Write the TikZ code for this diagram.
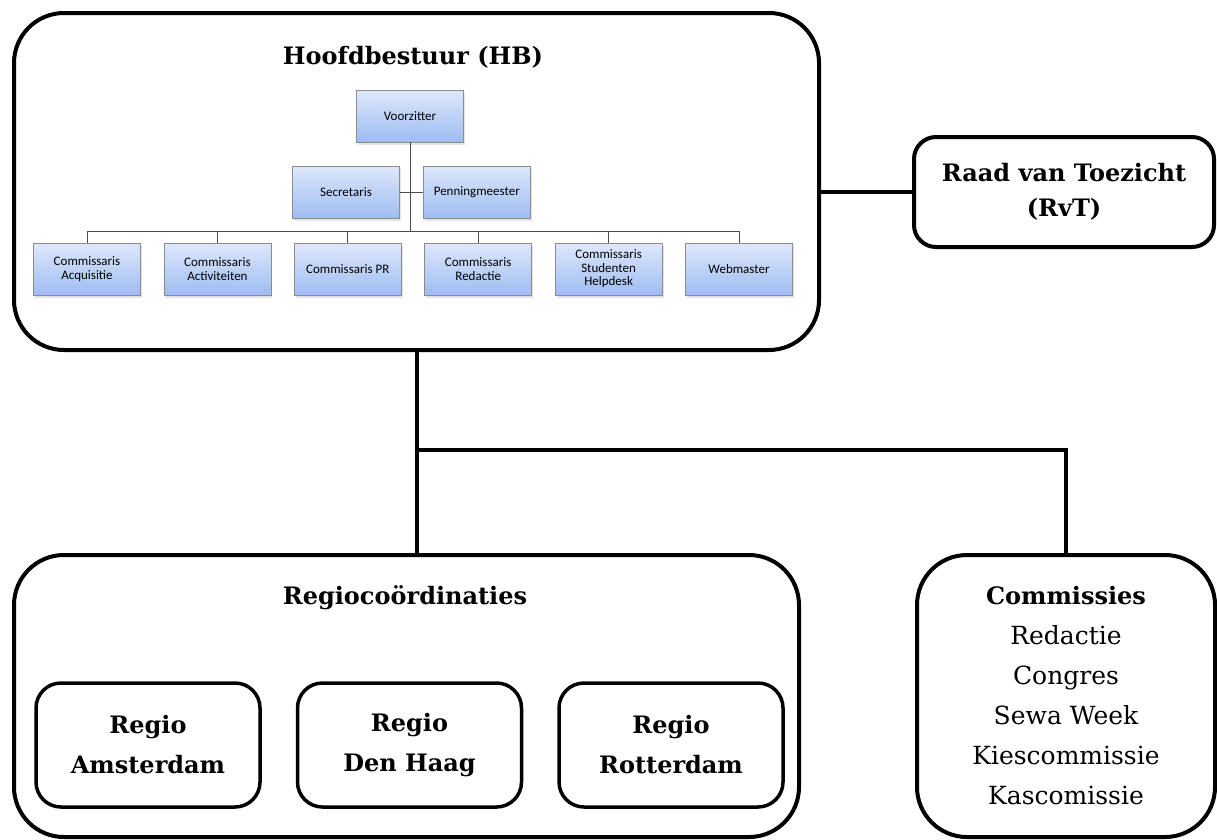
\documentclass[tikz,border=0pt]{standalone}
\usepackage{fontspec}
\setmainfont{DejaVu Serif}
\newfontfamily\orgfont{Carlito}
\usetikzlibrary{positioning,shadows}
\definecolor{orgtop}{RGB}{222,232,251}
\definecolor{orgbot}{RGB}{158,188,242}

\begin{document}
\begin{tikzpicture}[
  x=1pt, y=-1pt,
  node distance=22.6pt and 22.6pt,
  unitbox/.style={draw, line width=4pt, rounded corners=50pt, inner sep=0pt},
  unittitle/.style={font=\fontsize{24}{30}\selectfont\bfseries},
  regbox/.style={draw, line width=3.5pt, rounded corners=25pt, align=center,
    minimum width=224pt, minimum height=124pt,
    font=\fontsize{24}{40}\selectfont\bfseries},
  orgbox/.style={draw=black!45, line width=0.8pt, align=center,
    minimum width=107pt, minimum height=52pt, inner sep=2pt,
    top color=orgtop, bottom color=orgbot,
    drop shadow={opacity=0.22, shadow xshift=1.5pt, shadow yshift=-2.5pt},
    font=\orgfont\fontsize{13}{13.5}\selectfont},
  orgline/.style={draw=black!70, line width=0.9pt},
  link/.style={draw, line width=4pt},
]
\useasboundingbox (0,0) rectangle (1217,839);

\node[unitbox, minimum width=805pt, minimum height=337pt, anchor=north west] (hb) at (12,11) {};
\node[unittitle] (hbtitle) at (413,57) {Hoofdbestuur (HB)};

\node[orgbox] (vz) at (410,116) {Voorzitter};
\node[orgbox] (sec) at (346,192) {Secretaris};
\node[orgbox, right=23pt of sec] (pen) {Penningmeester};

\node[orgbox] (cacq) at (87,269) {Commissaris\\Acquisitie};
\node[orgbox, right=of cacq] (cact) {Commissaris\\Activiteiten};
\node[orgbox, right=of cact] (cpr) {Commissaris PR};
\node[orgbox, right=of cpr] (cred) {Commissaris\\Redactie};
\node[orgbox, right=of cred] (csh) {Commissaris\\Studenten\\Helpdesk};
\node[orgbox, right=of csh] (web) {Webmaster};

\path (vz.south |- cpr.north) ++(0,-11) coordinate (bus);
\draw[orgline] (vz.south) -- (bus);
\draw[orgline] (cacq.north) |- (bus) -| (web.north);
\foreach \n in {cact,cpr,cred,csh}
  \draw[orgline] (\n.north) -- (\n.north |- bus);
\draw[orgline] (sec.east) -- (pen.west);

\node[unitbox, rounded corners=22pt, minimum width=300pt, minimum height=110pt,
  align=center, font=\fontsize{24}{35}\selectfont\bfseries] (rvt) at (1064,192)
  {Raad van Toezicht\\(RvT)};
\draw[link] (rvt.west -| hb.east) -- (rvt.west);

\node[unitbox, minimum width=785pt, minimum height=282pt, anchor=north west] (regio) at (12,553) {};
\node[unittitle] (regiotitle) at (405,598) {Regiocoördinaties};
\node[regbox] (ams) at (148,745) {Regio\\Amsterdam};
\node[regbox, right=34pt of ams] (dh) {Regio\\Den Haag};
\node[regbox, right=34pt of dh] (rot) {Regio\\Rotterdam};

\node[unitbox, minimum width=298pt, minimum height=282pt, anchor=north west,
  align=center, font=\fontsize{25}{40}\selectfont] (comm) at (915,553)
  {{\bfseries\fontsize{24}{40}\selectfont Commissies}\\Redactie\\Congres\\Sewa Week\\Kiescommissie\\Kascomissie};

\draw[link] (hb.south) -- (hb.south |- regio.north);
\path (hb.south) ++(0,98) coordinate (split);
\draw[link] (split) -| (comm.north);
\end{tikzpicture}
\end{document}
